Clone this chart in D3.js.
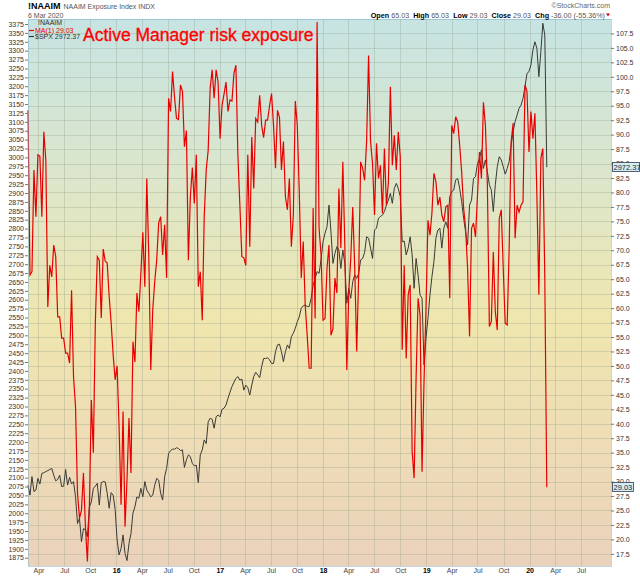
<!DOCTYPE html>
<html>
<head>
<meta charset="utf-8">
<script src="https://cdn.jsdelivr.net/npm/d3@7"></script>
<style>
  body { margin: 0; background: #fff; }
  text { font-family: "Liberation Sans", Arial, sans-serif; }
</style>
</head>
<body>
<div id="chart"></div>
<script>
// NAAIM exposure index, weekly (Mondays)
const naaim2015 = [94.2, 65.7, 66.3, 83.9, 75.8, 86.5, 86.3, 75.8, 90.5, 85.6, 60.2, 67.4, 65.4, 70.9, 68.9, 58.5, 58.5, 54.8, 54.8, 52.2, 52.2, 50.5, 63.1, 48.1, 43, 28, 23.7, 25, 31.5, 22.2, 16.2, 25.7, 44.1, 35, 57.4, 68.9, 68.3, 58.3, 70.2, 68.1, 67.8, 62, 57.4, 52, 47.6];
const naaim2016 = [50, 39.5, 26, 42.1, 22.2, 30.3, 41, 31.5, 54.2, 50.7, 62.6, 59.4, 66, 73.1, 63.7, 82.4, 68.9, 49.3, 59.7, 64.6, 68.3, 74.8, 75.8, 69.2, 74.4, 65.2, 96.3, 94, 100.9, 96.5, 92.8, 92.6, 98.6, 97.5, 87.9, 90.7, 68.3, 79.3, 84.3, 78.1, 86.5, 63.7, 66.3, 57.9, 75.8, 83.9, 87.3, 98, 101.2, 96.3, 101.2, 99.1];
const naaim2017 = [89.3, 95.1, 97, 99.1, 94, 96, 95.8, 100.6, 102, 86.5, 77.8, 68.9, 68.7, 67.4, 86.5, 70.6, 89.6, 80.7, 92.8, 92.2, 96.8, 91.6, 89.5, 92.5, 92.5, 95, 97.1, 91.6, 84.2, 94.2, 93, 83.9, 88.8, 79.3, 77, 82.4, 70.6, 76, 95.8, 91.6, 80.1, 65.2, 71.5, 60.5, 55.3, 49.6, 49.6, 77.3, 58.2, 109.5, 73.8, 69.2];
const naaim2018 = [57.9, 58.2, 66.9, 70.9, 55.3, 56.4, 65.2, 62.6, 80.7, 70.4, 85.3, 70.9, 49.3, 62.8, 68.6, 77.5, 67, 52.5, 65.7, 85.3, 84.2, 82.1, 88.8, 103.7, 88.8, 85, 76.1, 88.5, 82.4, 84.7, 76.4, 87.6, 77.8, 81.7, 98.3, 84.7, 89.9, 83.9, 90.5, 86.2, 52.8, 67.4, 51.3, 62.3, 64, 35.2, 30.6, 48, 61.7, 58.8, 31.7, 47.3, 60];
const naaim2019 = [75.2, 72.6, 76.5, 83.3, 81.9, 77.8, 79.2, 76.1, 74.9, 77.5, 77.8, 61.7, 91.6, 90.2, 93.1, 92.2, 88.2, 83.6, 77.3, 73.8, 66.9, 55.1, 73.8, 74.7, 72.3, 79.5, 87, 82.4, 95.6, 91.6, 81.3, 56.8, 57.7, 69.7, 59.4, 56.2, 75.5, 77, 66.9, 57.4, 57.1, 70.4, 88.8, 92, 72.1, 77.8, 76.6, 77.8, 78.4, 98.6, 97.5, 87];
const naaim2020 = [94, 89.3, 93.7, 79.5, 62.3, 85.9, 87.6, 65.03, 29.03];

// S&P 500 on the same weeks
const spx2015 = [2079, 2051, 2103, 2061, 2065, 2098, 2082, 2112, 2114, 2117, 2120, 2123, 2126, 2107, 2091, 2095, 2107, 2075, 2076, 2123, 2079, 2101, 2082, 2089, 2046, 1971, 1986, 1920, 1957, 1953, 1934, 2018, 2032, 2070, 2076, 2084, 2023, 2086, 2089, 2088, 2056, 2014, 2058, 2051, 2011];
const spx2016 = [1925, 1883, 1901, 1939, 1887, 1867, 1915, 1943, 2000, 2018, 2046, 2042, 2070, 2046, 2089, 2065, 2056, 2046, 2051, 2079, 2098, 2093, 2056, 2037, 2103, 2126, 2168, 2176, 2180, 2180, 2184, 2182, 2176, 2178, 2129, 2150, 2164, 2159, 2140, 2133, 2135, 2086, 2164, 2178, 2206, 2196, 2257, 2267, 2264, 2239, 2271, 2276];
const spx2017 = [2271, 2292, 2295, 2304, 2323, 2340, 2356, 2368, 2379, 2384, 2374, 2377, 2346, 2360, 2353, 2332, 2360, 2384, 2396, 2389, 2381, 2412, 2435, 2435, 2437, 2431, 2421, 2421, 2454, 2473, 2475, 2454, 2426, 2454, 2473, 2463, 2496, 2506, 2520, 2538, 2552, 2576, 2583, 2585, 2581, 2581, 2604, 2641, 2660, 2679, 2674, 2712];
const spx2018 = [2763, 2787, 2805, 2866, 2791, 2702, 2730, 2749, 2740, 2688, 2740, 2702, 2590, 2632, 2604, 2651, 2670, 2660, 2674, 2712, 2716, 2733, 2777, 2773, 2745, 2716, 2796, 2801, 2829, 2834, 2838, 2848, 2866, 2880, 2899, 2871, 2913, 2927, 2913, 2890, 2763, 2765, 2726, 2745, 2777, 2726, 2632, 2716, 2670, 2613, 2604, 2417, 2492];
const spx2019 = [2548, 2613, 2665, 2707, 2773, 2796, 2801, 2745, 2801, 2819, 2801, 2890, 2904, 2908, 2937, 2941, 2913, 2876, 2829, 2791, 2754, 2866, 2880, 2941, 2946, 2983, 2997, 3021, 2969, 2993, 2960, 2923, 2908, 2848, 2923, 2974, 3002, 2993, 2974, 2953, 2969, 2988, 3035, 3072, 3101, 3119, 3138, 3147, 3166, 3199, 3236, 3241];
const spx2020 = [3260, 3302, 3325, 3307, 3227, 3297, 3377, 3344, 2972.37];

// Tick labels
const leftTicks = d3.range(1875, 3376, 25);
const rightTicks = d3.range(17.5, 108, 2.5);
const monthNames = ["Jan", "Feb", "Mar", "Apr", "May", "Jun", "Jul", "Aug", "Sep", "Oct", "Nov", "Dec"];

const lastNaaim = 29.03;
const lastSpx = 2972.37;

const W = 640, H = 576;
const m = { top: 19, right: 29, bottom: 10, left: 28 };
const pLeft = m.left, pRight = W - m.right, pTop = m.top, pBottom = H - m.bottom;

// weekly dates, one per value
const dates = d3.timeMonday.range(new Date(2015, 1, 23), new Date(2020, 2, 3));
const naaim = [].concat(naaim2015, naaim2016, naaim2017, naaim2018, naaim2019, naaim2020);
const spx = [].concat(spx2015, spx2016, spx2017, spx2018, spx2019, spx2020);
const rows = dates.map((d, i) => ({ date: d, naaim: naaim[i], spx: spx[i] }));

const svg = d3.select("#chart").append("svg")
    .attr("width", W)
    .attr("height", H);

// Scales
const x = d3.scaleTime()
    .domain([new Date(2015, 1, 23), new Date(2020, 9, 15)])
    .range([pLeft, pRight]);
const yL = d3.scaleLinear().domain([1851.7, 3389]).range([pBottom, pTop]);
const yR = d3.scaleLinear().domain([15.4, 110]).range([pBottom, pTop]);

// Background gradient
const grad = svg.append("defs").append("linearGradient")
    .attr("id", "bg").attr("x1", 0).attr("y1", 0).attr("x2", 0).attr("y2", 1);
[["0%", "#c6e4e3"], ["30%", "#dde6ca"], ["55%", "#efe6ae"], ["78%", "#eedcb6"], ["100%", "#ead2bb"]]
    .forEach(s => grad.append("stop").attr("offset", s[0]).attr("stop-color", s[1]));

svg.append("rect")
    .attr("x", pLeft).attr("y", pTop)
    .attr("width", pRight - pLeft).attr("height", pBottom - pTop)
    .attr("fill", "url(#bg)");

// Grid (quarter lines, only the ones inside the plot)
const quarters = d3.timeMonth.every(3).range(x.domain()[0], x.domain()[1])
    .filter(d => x(d) < pRight - 10);
const grid = svg.append("g").attr("stroke", "#8f9c84").attr("stroke-opacity", 0.3).attr("stroke-width", 1);
grid.selectAll("line.h").data(rightTicks).enter().append("line")
    .attr("class", "h")
    .attr("x1", pLeft).attr("x2", pRight)
    .attr("y1", d => Math.round(yR(d)) + 0.5).attr("y2", d => Math.round(yR(d)) + 0.5);
grid.selectAll("line.v").data(quarters).enter().append("line")
    .attr("class", "v")
    .attr("y1", pTop).attr("y2", pBottom)
    .attr("x1", d => Math.round(x(d)) + 0.5).attr("x2", d => Math.round(x(d)) + 0.5);

// Lines
const spxLine = d3.line().x(d => x(d.date)).y(d => yL(d.spx));
const naaimLine = d3.line().x(d => x(d.date)).y(d => yR(d.naaim));

svg.append("path").datum(rows)
    .attr("d", spxLine)
    .attr("fill", "none")
    .attr("stroke", "#3a3a36")
    .attr("stroke-width", 1);

svg.append("path").datum(rows)
    .attr("d", naaimLine)
    .attr("fill", "none")
    .attr("stroke", "#e80000")
    .attr("stroke-width", 1.2);

// Frame
svg.append("rect")
    .attr("x", pLeft + 0.5).attr("y", pTop + 0.5)
    .attr("width", pRight - pLeft).attr("height", pBottom - pTop)
    .attr("fill", "none")
    .attr("stroke", "#7aaac8")
    .attr("stroke-dasharray", "1,1");

// Left axis ($SPX)
const gL = svg.append("g")
    .attr("transform", "translate(" + pLeft + ",0)")
    .call(d3.axisLeft(yL).tickValues(leftTicks).tickSize(3).tickPadding(1).tickFormat(d3.format("d")));
gL.select(".domain").remove();
gL.selectAll("line").attr("stroke", "#777");
gL.selectAll("text").attr("font-size", 7).attr("fill", "#333").style("font-family", "'Liberation Sans', Arial, sans-serif");

// Right axis (NAAIM)
const gR = svg.append("g")
    .attr("transform", "translate(" + pRight + ",0)")
    .call(d3.axisRight(yR).tickValues(rightTicks).tickSize(3).tickPadding(2).tickFormat(d3.format(".1f")));
gR.select(".domain").remove();
gR.selectAll("line").attr("stroke", "#777");
gR.selectAll("text").attr("font-size", 7).attr("fill", "#333").style("font-family", "'Liberation Sans', Arial, sans-serif");

// Bottom axis
const gB = svg.append("g")
    .attr("transform", "translate(0," + pBottom + ")")
    .call(d3.axisBottom(x).tickValues(quarters).tickSize(0).tickPadding(2)
        .tickFormat(d => d.getMonth() === 0 ? String(d.getFullYear()).slice(2) : monthNames[d.getMonth()]));
gB.select(".domain").remove();
gB.selectAll("text")
    .attr("font-size", 7)
    .attr("fill", d => d.getMonth() === 0 ? "#000" : "#444")
    .attr("font-weight", d => d.getMonth() === 0 ? "bold" : "normal")
    .style("font-family", "'Liberation Sans', Arial, sans-serif");

// Value tags on the right
function tag(yv, label, w) {
    const g = svg.append("g").attr("transform", "translate(" + (pRight + 1) + "," + Math.round(yv) + ")");
    g.append("rect")
        .attr("x", 0.5).attr("y", -4.5).attr("width", w).attr("height", 9)
        .attr("fill", "#d4ecf3").attr("stroke", "#2c3e50").attr("stroke-width", 0.8);
    g.append("text")
        .attr("x", 1.5).attr("y", 2.6)
        .attr("font-size", 7.5).attr("fill", "#1a2a3a")
        .text(label);
}
tag(yL(lastSpx), lastSpx.toFixed(2), 27);
tag(yR(lastNaaim), lastNaaim.toFixed(2), 21);

// Legend in the top left corner
svg.append("text").attr("x", 38).attr("y", 25).attr("font-size", 7).attr("fill", "#333").text("!NAAIM");
svg.append("line").attr("x1", 29).attr("x2", 34).attr("y1", 30.5).attr("y2", 30.5).attr("stroke", "#e80000").attr("stroke-width", 1.2);
svg.append("text").attr("x", 35).attr("y", 33).attr("font-size", 7).attr("fill", "#e80000").text("MA(1) " + lastNaaim.toFixed(2));
svg.append("line").attr("x1", 29).attr("x2", 34).attr("y1", 36.5).attr("y2", 36.5).attr("stroke", "#333").attr("stroke-width", 1.2);
svg.append("text").attr("x", 35).attr("y", 39).attr("font-size", 7).attr("fill", "#333").text("$SPX " + lastSpx.toFixed(2));

// Title
svg.append("text")
    .attr("x", 83).attr("y", 41)
    .attr("font-size", 17.5)
    .attr("fill", "#ff0000")
    .attr("stroke", "#ff0000")
    .attr("stroke-width", 0.3)
    .text("Active Manager risk exposure");

// Header
const h1 = svg.append("text").attr("x", 28).attr("y", 9);
h1.append("tspan").attr("font-size", 9).attr("font-weight", "bold").attr("fill", "#000").text("!NAAIM");
h1.append("tspan").attr("dx", 3).attr("font-size", 7).attr("fill", "#555").text("NAAIM Exposure Index  INDX");
svg.append("text").attr("x", 28).attr("y", 17.5).attr("font-size", 7).attr("fill", "#555").text("6 Mar 2020");

svg.append("text")
    .attr("x", 610).attr("y", 8)
    .attr("text-anchor", "end")
    .attr("font-size", 7).attr("fill", "#666")
    .text("\u00A9StockCharts.com");

const quote = [["Open", "65.03"], ["High", "65.03"], ["Low", "29.03"], ["Close", "29.03"], ["Chg", "-36.00 (-55.36%)"]];
const h2 = svg.append("text").attr("x", 605).attr("y", 17.5).attr("text-anchor", "end").attr("font-size", 7.2);
quote.forEach((q, i) => {
    h2.append("tspan").attr("dx", i ? 4 : 0).attr("font-weight", "bold").attr("fill", "#000").text(q[0]);
    h2.append("tspan").attr("dx", 2).attr("fill", "#555").text(q[1]);
});
svg.append("path").attr("d", "M606,13.5 L610,13.5 L608,16.5 Z").attr("fill", "#d00");
</script>
</body>
</html>
